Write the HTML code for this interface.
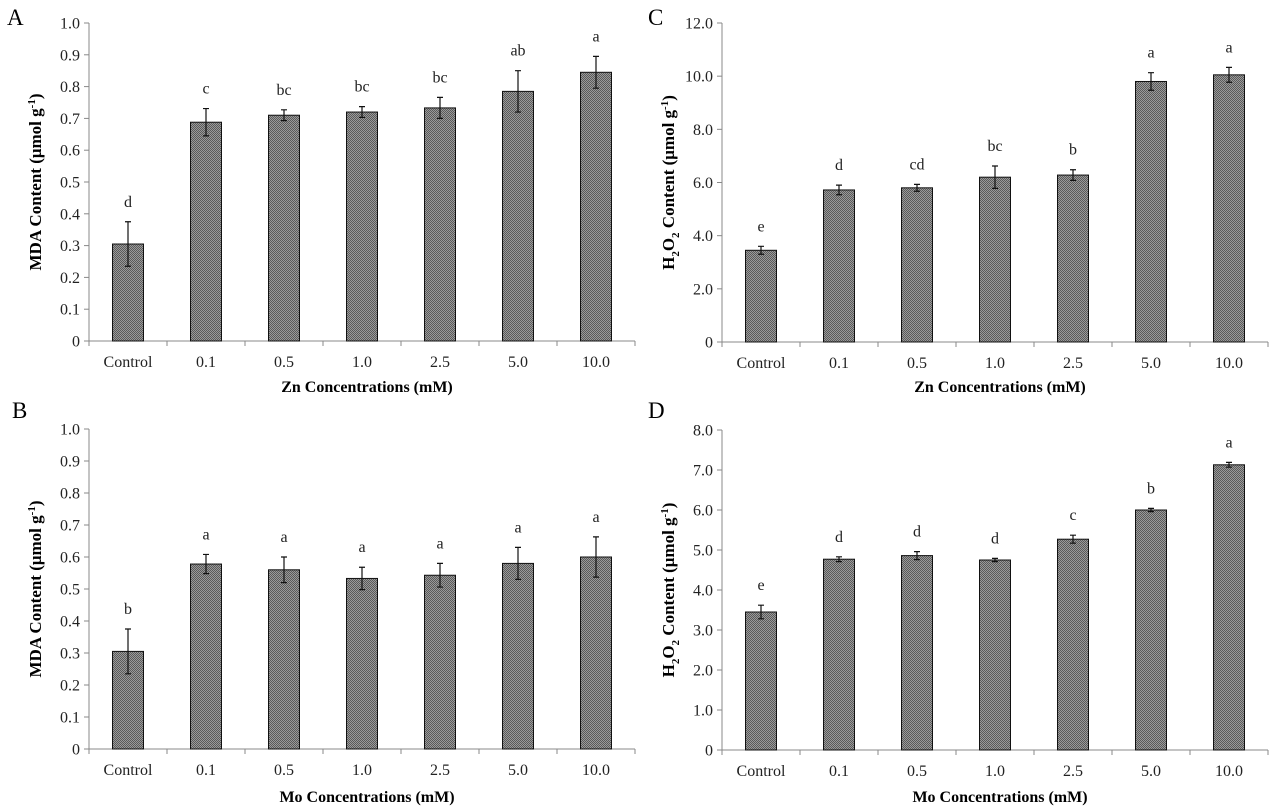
<!DOCTYPE html>
<html><head><meta charset="utf-8">
<style>
html,body{margin:0;padding:0;background:#fff;}
svg{display:block;font-family:"Liberation Serif",serif;}
</style></head>
<body>
<svg id="fig" width="1279" height="810" viewBox="0 0 1279 810">
<defs>
<pattern id="hatch" width="2" height="2" patternUnits="userSpaceOnUse">
<rect width="2" height="2" fill="#9a9a9a"/>
<rect width="1" height="1" fill="#5a5a5a"/>
<rect x="1" y="1" width="1" height="1" fill="#5a5a5a"/>
</pattern>
</defs>
</svg>
<script>
const categories = ["Control","0.1","0.5","1.0","2.5","5.0","10.0"];
const valuesA = [0.305,0.688,0.71,0.72,0.733,0.785,0.845];
const errorsA = [0.07,0.043,0.017,0.017,0.033,0.065,0.05];
const lettersA = ["d","c","bc","bc","bc","ab","a"];
const ticksA = ["0","0.1","0.2","0.3","0.4","0.5","0.6","0.7","0.8","0.9","1.0"];
const valuesB = [0.305,0.578,0.56,0.533,0.543,0.58,0.6];
const errorsB = [0.07,0.03,0.04,0.035,0.037,0.05,0.063];
const lettersB = ["b","a","a","a","a","a","a"];
const ticksB = ["0","0.1","0.2","0.3","0.4","0.5","0.6","0.7","0.8","0.9","1.0"];
const valuesC = [3.45,5.72,5.8,6.2,6.28,9.8,10.05];
const errorsC = [0.15,0.18,0.13,0.42,0.2,0.33,0.28];
const lettersC = ["e","d","cd","bc","b","a","a"];
const ticksC = ["0","2.0","4.0","6.0","8.0","10.0","12.0"];
const valuesD = [3.45,4.77,4.86,4.75,5.27,6.0,7.13];
const errorsD = [0.17,0.06,0.1,0.04,0.1,0.04,0.06];
const lettersD = ["e","d","d","d","c","b","a"];
const ticksD = ["0","1.0","2.0","3.0","4.0","5.0","6.0","7.0","8.0"];

const NS="http://www.w3.org/2000/svg";
const svg=document.getElementById('fig');
function mk(tag,attrs,parent,text){const e=document.createElementNS(NS,tag);for(const k in attrs)e.setAttribute(k,attrs[k]);if(text!==undefined)e.textContent=text;(parent||svg).appendChild(e);return e;}

function panel(id,letter,lx,ly,x0,yTop,yBot,ticks,vals,errs,lets,ylabel,xlabel,xlabY,ytitleX){
  const g=mk('g',{});
  
  
  const ymax=parseFloat(ticks[ticks.length-1]);
  const ys=v=>yBot-(v/ymax)*(yBot-yTop);
  const step=78, x1=x0+step*categories.length;
  const xc=i=>x0+step*(i+0.5);
  const pl=mk('text',{x:lx,y:ly,'font-size':23},g,letter);
  
  
  const ax=mk('line',{x1:x0,y1:yTop,x2:x0,y2:yBot,stroke:'#888','stroke-width':1},g);
  
  
  const bx=mk('line',{x1:x0,y1:yBot,x2:x1,y2:yBot,stroke:'#888','stroke-width':1},g);
  
  
  ticks.forEach(t=>{
    const y=ys(parseFloat(t));
    mk('line',{x1:x0-5,y1:y,x2:x0,y2:y,stroke:'#888'},g);
    const tl=mk('text',{x:x0-9,y:y+5.5,'font-size':16,'text-anchor':'end',fill:'#222'},g,t);
    
    
  });
  for(let i=0;i<=categories.length;i++){const x=x0+step*i;mk('line',{x1:x,y1:yBot,x2:x,y2:yBot+5,stroke:'#888'},g);}
  categories.forEach((c,i)=>{
    const tl=mk('text',{x:xc(i),y:yBot+26,'font-size':16,'text-anchor':'middle',fill:'#222'},g,c);
    
    
    const v=vals[i],e=errs[i];
    const b=mk('rect',{x:xc(i)-15.5,y:ys(v),width:31,height:yBot-ys(v),fill:'url(#hatch)',stroke:'#111','stroke-width':1},g);
    
    
    const et=ys(v+e),eb=ys(v-e);
    const eg=mk('path',{d:`M${xc(i)},${et}V${eb}M${xc(i)-3},${et}H${xc(i)+3}M${xc(i)-3},${eb}H${xc(i)+3}`,stroke:'#111','stroke-width':1.2,fill:'none'},g);
    
    
    const lt=mk('text',{x:xc(i),y:et-15,'font-size':16,'text-anchor':'middle',fill:'#222'},g,lets[i]);
    
    
  });
  const yt=mk('text',{x:0,y:0,'font-size':17,'font-weight':'bold','text-anchor':'middle',transform:`translate(${ytitleX},${(yTop+yBot)/2}) rotate(-90)`},g);
  yt.innerHTML=ylabel;
  
  
  const xt=mk('text',{x:(x0+x1)/2+5,y:xlabY,'font-size':16,'font-weight':'bold','text-anchor':'middle'},g,xlabel);
  
  
}
const mdaLab='MDA Content (μmol  g<tspan dy="-6" font-size="11">-1</tspan><tspan dy="6">)</tspan>';
const h2oLab='H<tspan dy="5" font-size="11">2</tspan><tspan dy="-5">O</tspan><tspan dy="5" font-size="11">2</tspan><tspan dy="-5"> Content (μmol  g</tspan><tspan dy="-6" font-size="11">-1</tspan><tspan dy="6">)</tspan>';
panel('a','A',7,25,89,23,341,ticksA,valuesA,errorsA,lettersA,mdaLab,'Zn  Concentrations (mM)',392,41);
panel('b','B',12,418,89,429,749,ticksB,valuesB,errorsB,lettersB,mdaLab,'Mo  Concentrations (mM)',802,41);
panel('c','C',648,25,722,23,342,ticksC,valuesC,errorsC,lettersC,h2oLab,'Zn  Concentrations (mM)',392,674);
panel('d','D',648,418,722,430,750,ticksD,valuesD,errorsD,lettersD,h2oLab,'Mo  Concentrations (mM)',802,674);
</script>
</body></html>
